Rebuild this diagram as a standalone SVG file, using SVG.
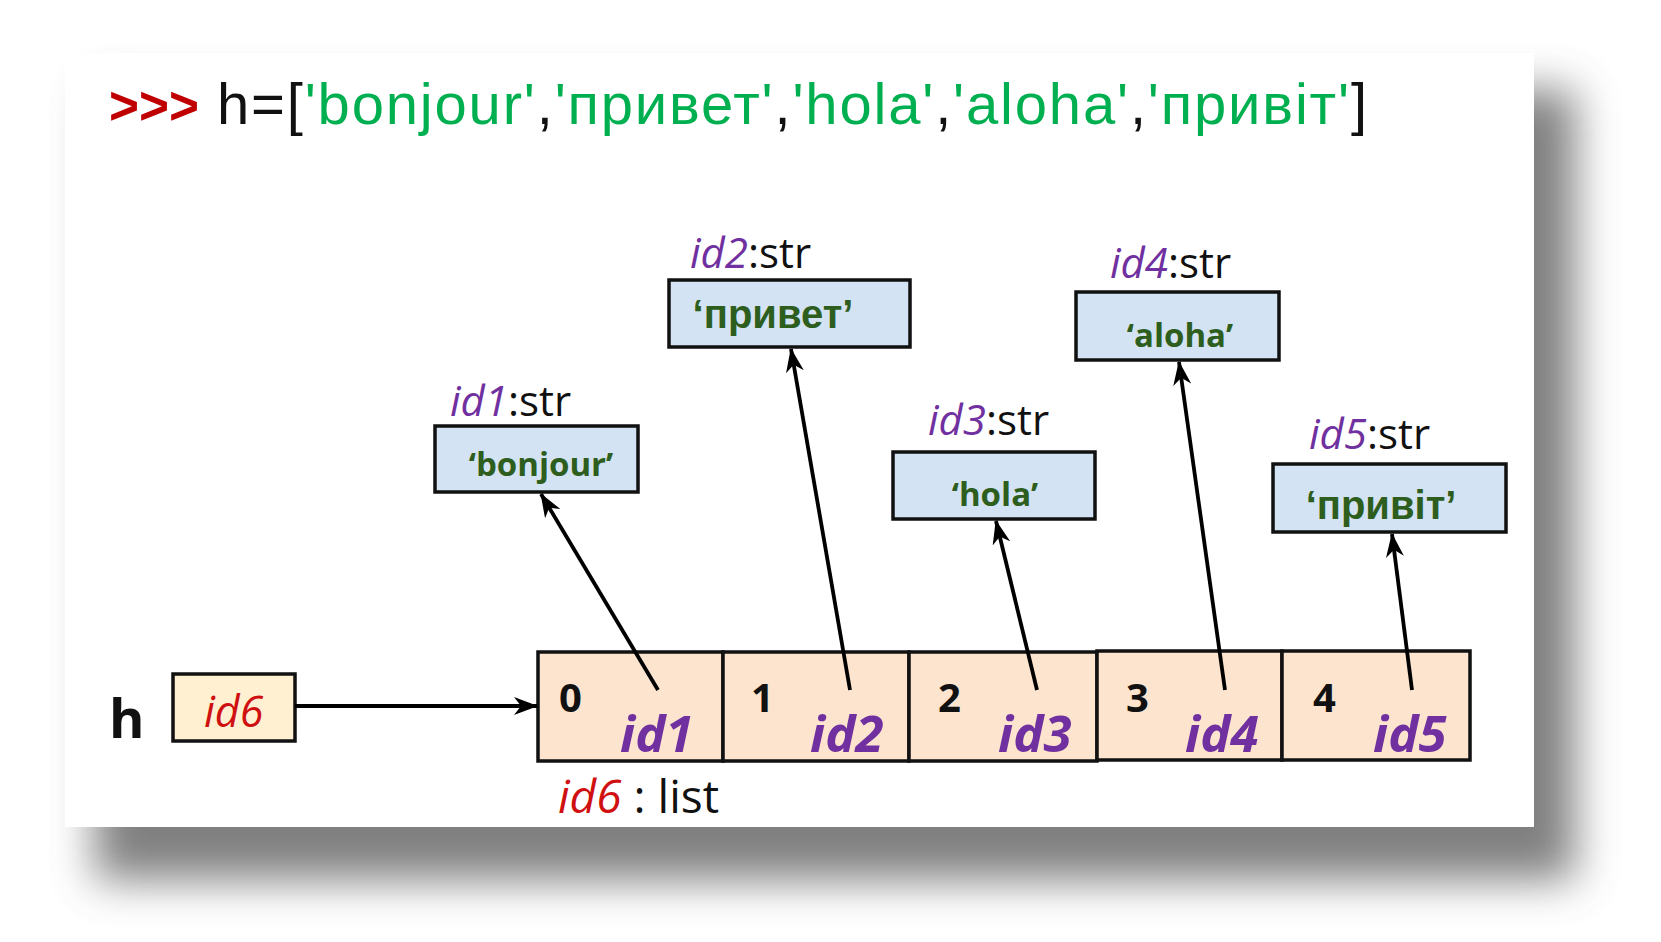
<svg xmlns="http://www.w3.org/2000/svg" width="1661" height="942" viewBox="0 0 1661 942">
  <defs>
    <filter id="shadow" x="-10%" y="-10%" width="125%" height="130%">
      <feGaussianBlur stdDeviation="22"/>
    </filter>
    <marker id="arrow" viewBox="0 0 24 18" markerWidth="24" markerHeight="18" refX="23" refY="9" orient="auto" markerUnits="userSpaceOnUse">
      <path d="M0,0 L24,9 L0,18 L7,9 Z" fill="#000"/>
    </marker>
  </defs>
  <style>
    .strbox { fill: #D3E3F3; stroke: #111; stroke-width: 3.5; }
    .cell { fill: #FCE4CF; stroke: #111; stroke-width: 3.5; }
    .varbox { fill: #FFF0D2; stroke: #111; stroke-width: 3.5; }
    .lbl { font-family: "Open Sans", "Liberation Sans", sans-serif; font-size: 42px; fill: #111; }
    .idp { fill: #7030A0; font-style: italic; }
    .val { font-family: "Open Sans", "Liberation Sans", sans-serif; font-weight: bold; font-size: 33px; fill: #2E5E1E; text-anchor: middle; }
    .valc { font-family: "Liberation Sans", Arial, sans-serif; font-weight: bold; font-size: 40px; fill: #2E5E1E; text-anchor: middle; }
    .idx { font-family: "Open Sans", "Liberation Sans", sans-serif; font-weight: bold; font-size: 40px; fill: #111; }
    .ref { font-family: "Open Sans", "Liberation Sans", sans-serif; font-weight: bold; font-style: italic; font-size: 51px; fill: #7030A0; }
    .conn { stroke: #000; stroke-width: 3.8; fill: none; marker-end: url(#arrow); }
  </style>

  <rect x="0" y="0" width="1661" height="942" fill="#fff"/>
  <!-- card shadow -->
  <rect x="95" y="90" width="1480" height="790" fill="#555" opacity="0.75" filter="url(#shadow)"/>
  <!-- card -->
  <rect x="65" y="53" width="1469" height="774" fill="#fff"/>

  <!-- title -->
  <g id="title">
    <text x="109" y="124" font-family="Liberation Sans, Arial, sans-serif" font-size="54" font-weight="bold" fill="#C00000" textLength="90" lengthAdjust="spacingAndGlyphs">&gt;&gt;&gt;</text>
    <text x="217" y="124" font-family="Liberation Sans, Arial, sans-serif" font-size="58" fill="#111" textLength="1150" lengthAdjust="spacing">h=[<tspan fill="#00B050">'bonjour'</tspan>,<tspan fill="#00B050">'привет'</tspan>,<tspan fill="#00B050">'hola'</tspan>,<tspan fill="#00B050">'aloha'</tspan>,<tspan fill="#00B050">'привіт'</tspan>]</text>
  </g>

  <!-- string objects -->
  <g id="str1">
    <text class="lbl" x="450" y="416"><tspan class="idp">id1</tspan>:str</text>
    <rect class="strbox" x="435" y="426" width="203" height="66"/>
    <text class="val" x="541" y="476">‘bonjour’</text>
  </g>
  <g id="str2">
    <text class="lbl" x="690" y="268"><tspan class="idp">id2</tspan>:str</text>
    <rect class="strbox" x="669" y="280" width="241" height="67"/>
    <text class="valc" x="773" y="328">‘привет’</text>
  </g>
  <g id="str3">
    <text class="lbl" x="928" y="435"><tspan class="idp">id3</tspan>:str</text>
    <rect class="strbox" x="893" y="452" width="202" height="67"/>
    <text class="val" x="995" y="506">‘hola’</text>
  </g>
  <g id="str4">
    <text class="lbl" x="1110" y="278"><tspan class="idp">id4</tspan>:str</text>
    <rect class="strbox" x="1076" y="292" width="203" height="68"/>
    <text class="val" x="1180" y="347">‘aloha’</text>
  </g>
  <g id="str5">
    <text class="lbl" x="1309" y="449"><tspan class="idp">id5</tspan>:str</text>
    <rect class="strbox" x="1273" y="464" width="233" height="68"/>
    <text class="valc" x="1381" y="519">‘привіт’</text>
  </g>

  <!-- variable h -->
  <g id="var-h">
    <text x="109" y="738" font-family="Open Sans, Liberation Sans, sans-serif" font-weight="bold" font-size="54" fill="#111">h</text>
    <rect class="varbox" x="173" y="674" width="122" height="67"/>
    <text x="204" y="727" font-family="Open Sans, Liberation Sans, sans-serif" font-style="italic" font-size="43" fill="#D01010">id6</text>
  </g>

  <!-- list object -->
  <g id="list">
    <rect class="cell" x="538" y="652" width="185" height="109"/>
    <rect class="cell" x="723" y="652" width="186" height="109"/>
    <rect class="cell" x="909" y="652" width="188" height="109"/>
    <rect class="cell" x="1097" y="651" width="185" height="109"/>
    <rect class="cell" x="1282" y="651" width="188" height="109"/>
    <text class="idx" x="559" y="712">0</text>
    <text class="idx" x="751" y="712">1</text>
    <text class="idx" x="938" y="712">2</text>
    <text class="idx" x="1126" y="712">3</text>
    <text class="idx" x="1313" y="712">4</text>
    <text class="ref" x="620" y="752">id1</text>
    <text class="ref" x="810" y="752">id2</text>
    <text class="ref" x="998" y="752">id3</text>
    <text class="ref" x="1185" y="752">id4</text>
    <text class="ref" x="1373" y="752">id5</text>
    <text x="558" y="813" font-family="Open Sans, Liberation Sans, sans-serif" font-size="46" fill="#111"><tspan fill="#D01010" font-style="italic">id6</tspan> : list</text>
  </g>

  <!-- connectors -->
  <g id="connectors">
    <line class="conn" x1="295" y1="706" x2="537" y2="706"/>
    <line class="conn" x1="658" y1="690" x2="541" y2="494"/>
    <line class="conn" x1="850" y1="690" x2="791" y2="349"/>
    <line class="conn" x1="1037" y1="690" x2="996" y2="521"/>
    <line class="conn" x1="1225" y1="690" x2="1179" y2="362"/>
    <line class="conn" x1="1412" y1="690" x2="1392" y2="534"/>
  </g>
</svg>
